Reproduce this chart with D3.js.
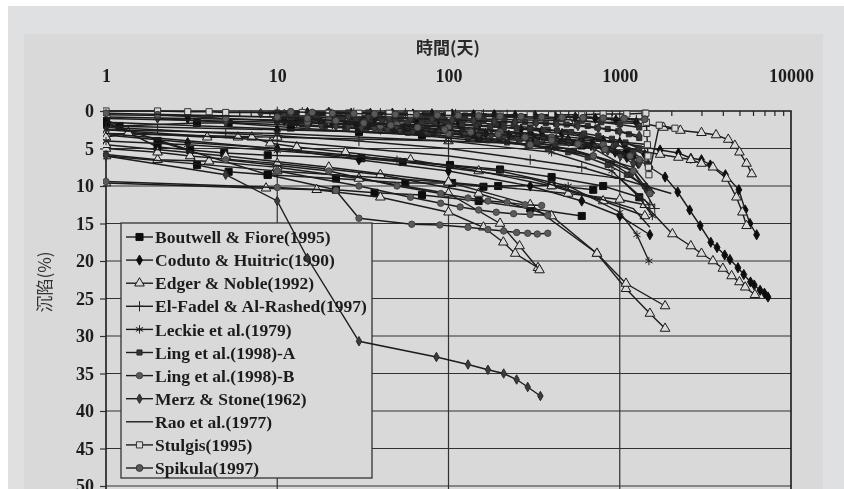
<!DOCTYPE html>
<html>
<head>
<meta charset="utf-8">
<script src="https://cdn.jsdelivr.net/npm/d3@7"></script>
<style>
  html, body { margin: 0; padding: 0; background: #fff; }
  svg { display: block; }
</style>
</head>
<body>
<div id="chart"></div>
<script>
// axis ticks
const xTicks = [1, 10, 100, 1000, 10000];
const yTicks = [0, 5, 10, 15, 20, 25, 30, 35, 40, 45, 50];

const seriesNames = [
  'Boutwell & Fiore(1995)',
  'Coduto & Huitric(1990)',
  'Edger & Noble(1992)',
  'El-Fadel & Al-Rashed(1997)',
  'Leckie et al.(1979)',
  'Ling et al.(1998)-A',
  'Ling et al.(1998)-B',
  'Merz & Stone(1962)',
  'Rao et al.(1977)',
  'Stulgis(1995)',
  'Spikula(1997)'
];

// [days, settlement %]
const boutwell1 = [[1,1.2],[1.2,2],[3.4,1.6],[5.2,1.6],[12,2.2],[30,2.8],[70,3.2],[150,3.6],[300,4],[600,4.6],[1100,5.5]];
const boutwell2 = [[1,1.4],[2,4.8],[4.9,5.6],[8.8,5.9],[31,6.3],[54,6.8],[102,7.2],[200,7.8],[400,8.8],[800,10],[1300,11.5]];
const boutwell3 = [[1,1.7],[3.1,5.2],[3.4,7.2],[5.2,8.1],[8.8,8.5],[22,9],[56,9.6],[105,9.6],[160,10.1],[195,10],[400,9.9],[700,10.5]];
const boutwell4 = [[2,4],[8.8,8.5],[22,10.5],[37,10.9],[70,11.2],[150,12],[300,13],[600,14]];

const coduto1 = [[1,0.8],[3,1],[10,1.2],[30,1.5],[100,2],[300,3],[700,4.5],[1200,6],[1500,7.5],[1840,8.8],[2180,10.8],[2560,13.2],[2950,15.3],[3400,17.5],[3700,18.2],[4100,19.2],[4400,19.8],[4900,20.9],[5300,21.8],[5800,22.8],[6100,23.2],[6600,23.9],[7000,24.3],[7340,24.8]];
const coduto2 = [[1,2],[10,2.5],[100,3],[500,3.8],[1000,4.2],[1720,5.2],[2200,5.6],[2600,6.3],[3000,6.5],[3380,7.2],[4140,8.5],[4960,10.5],[5400,13.2],[5760,15],[6300,16.5]];
const coduto3 = [[1,3.2],[3,4.2],[10,5],[30,6.5],[100,8],[300,10],[600,12],[1000,14],[1500,16.5]];
const coduto4 = [[15,0.2],[20,0.2],[27,0.3],[35,0.3],[47,0.3],[62,0.4],[80,0.4],[105,0.4],[140,0.5],[185,0.5],[245,0.6],[320,0.6],[420,0.7],[550,0.8],[720,1],[950,1.2],[1250,1.5]];
const coduto5 = [[12,0.6],[16,0.8],[21,0.9],[28,1],[37,1.1],[49,1.2],[65,1.4],[86,1.5],[115,1.7],[150,1.9],[200,2.1],[265,2.4],[350,2.7],[460,3],[610,3.4],[800,3.9],[1060,4.6],[1400,5.8]];
const coduto6 = [[11,1.3],[13,1.4],[15.5,1.5],[18,1.6],[21,1.7],[25,1.8],[29,1.9],[34,2],[40,2.1],[47,2.2],[55,2.3],[64,2.4],[75,2.5],[88,2.6],[103,2.7],[120,2.8],[140,2.9],[165,3],[193,3.1],[225,3.2],[265,3.3],[310,3.4],[360,3.6],[425,3.8],[500,4],[580,4.3],[680,4.6],[800,5],[940,5.5],[1100,6.2],[1280,7]];

const edger1 = [[1,9.6],[8.6,10.3],[17,10.5],[40,11.5],[100,13.5],[160,15.5],[209,17.5],[245,19],[333,20.9]];
const edger2 = [[1,5.8],[2,6.5],[4,6.7],[10,7.5],[30,9],[100,11],[200,15],[260,18],[340,21.2]];
const edger3 = [[1,5],[2,5.5],[3.1,6],[10,7],[40,8.5],[150,11],[400,14],[736,19],[1087,23.7],[1500,27],[1840,29]];
const edger4 = [[1,4.5],[5,6],[20,7.5],[100,9.5],[300,12.5],[736,19],[1087,23],[1840,26]];
const edger5 = [[1,0.5],[10,0.8],[100,1],[500,1.3],[1400,1.7],[1800,2.2],[2260,2.6],[3000,2.9],[3650,3.2],[4300,3.8],[4700,4.6],[5000,5.5],[5500,7],[5900,8.4]];
const edger6 = [[1,6],[10,8],[100,9.5],[500,11],[1000,11.8],[1400,12.5],[2030,16.4],[2600,18],[3000,19],[3500,20],[4000,21],[4500,22],[5000,22.8],[5400,23.5],[6160,24.5]];
const edger7 = [[1,3],[10,3.5],[100,4],[1000,4.8],[1720,5.8],[2200,6.2],[2600,6.5],[3000,7],[3500,7.5],[4200,9],[4800,11.5],[5200,13.5],[5500,15.3]];
const edger8 = [[1,3.5],[1.35,2.9],[3.9,3.5],[5.9,3.5],[7.1,3.5],[9.1,4.3],[13,4.8],[25,5.5],[60,6.5],[150,8],[400,10],[800,12],[1400,14]];

const elfadel1 = [[1,2.2],[2,2.5],[5,3],[10,3.3],[30,4],[100,5],[300,6.5],[600,7.5],[1000,9],[1500,12.5]];
const elfadel2 = [[10,1],[30,1.5],[100,2.5],[300,3.5],[700,5],[1200,8],[1600,13]];
const elfadel3 = [[10,0.1],[14,0.15],[20,0.2],[28,0.25],[40,0.3],[56,0.3],[80,0.35],[110,0.4],[160,0.45],[220,0.5],[320,0.6],[450,0.7],[640,0.8],[900,1],[1250,1.2]];

const leckie1 = [[1,4],[3,4.5],[10,5.3],[50,6.5],[200,8],[500,10],[1000,13.5],[1260,16.5],[1480,20]];
const leckie2 = [[1,2.5],[10,3],[100,4],[400,5.5],[900,8],[1300,11.5],[1550,14]];

const lingA1 = [[10,0.2],[13,0.3],[17,0.4],[22,0.5],[28,0.6],[35,0.7],[45,0.8],[60,1],[75,1.1],[95,1.3],[120,1.4],[150,1.6],[190,1.8],[240,2],[300,2.2],[380,2.5],[480,2.8],[600,3.2],[760,3.7],[950,4.4],[1200,5.5],[1450,7]];
const lingA2 = [[12,0.8],[16,1],[21,1.2],[27,1.4],[35,1.6],[45,1.8],[58,2],[75,2.3],[95,2.5],[120,2.8],[155,3.1],[200,3.4],[260,3.8],[330,4.2],[420,4.7],[540,5.3],[700,6],[900,7],[1150,8.5],[1450,10.5]];
const lingA3 = [[10,1.5],[14,1.8],[19,2],[25,2.2],[33,2.4],[44,2.6],[58,2.9],[76,3.1],[100,3.3],[130,3.6],[170,3.9],[220,4.2],[290,4.6],[380,5],[500,5.5],[650,6.2],[850,7.2],[1100,8.5],[1400,10]];
const lingA4 = [[10,0.5],[12,0.6],[14,0.7],[17,0.8],[20,0.9],[24,1],[29,1.1],[34,1.2],[41,1.3],[49,1.4],[58,1.5],[70,1.6],[83,1.7],[100,1.8],[120,1.9],[145,2],[175,2.1],[210,2.2],[250,2.3],[300,2.4],[360,2.5],[430,2.6],[520,2.8],[620,3],[750,3.3],[900,3.7],[1080,4.2],[1300,5]];
const lingA5 = [[20,0.1],[26,0.2],[34,0.2],[44,0.3],[57,0.3],[74,0.4],[96,0.5],[125,0.6],[160,0.7],[210,0.8],[270,0.9],[350,1],[460,1.1],[600,1.3],[780,1.5],[1000,1.8],[1300,2.2]];
const lingA6 = [[10,0.3],[11.5,0.35],[13,0.4],[15,0.45],[17,0.5],[20,0.55],[23,0.6],[26,0.65],[30,0.7],[35,0.75],[40,0.8],[46,0.85],[53,0.9],[61,0.95],[70,1],[80,1.05],[92,1.1],[106,1.15],[122,1.2],[140,1.25],[160,1.3],[185,1.35],[212,1.4],[245,1.45],[280,1.5],[322,1.55],[370,1.6],[425,1.7],[490,1.8],[560,1.9],[650,2],[740,2.2],[850,2.4],[980,2.7],[1130,3.1],[1300,3.6]];

const lingB1 = [[1,9.4],[10,10.2],[22,10.6],[30,14.3],[61,15.1],[89,15.2],[130,15.5],[170,15.8],[210,16],[250,16.2],[290,16.3],[330,16.4],[380,16.3]];
const lingB2 = [[10,8],[30,10],[60,11.5],[90,12.3],[117,12.8],[150,13.2],[190,13.5],[240,13.7],[300,13.8],[380,13.9]];
const lingB3 = [[5,6.5],[20,8],[50,10],[90,11],[130,11.6],[170,12],[220,12.2],[280,12.5],[350,12.6]];

const merz1 = [[1,6],[5,8.5],[10,12],[15,19.6],[30,30.7],[85,32.8],[130,33.8],[170,34.5],[210,35],[250,35.8],[290,36.8],[344,38]];
const merz2 = [[2,1],[5,1.5],[15,2],[40,2.5],[100,3],[250,3.5],[500,4],[900,5],[1300,7]];
const merz3 = [[8,0.3],[11,0.4],[15,0.5],[20,0.6],[26,0.7],[34,0.8],[45,0.9],[60,1],[80,1.1],[105,1.2],[140,1.3],[185,1.4],[245,1.5],[325,1.6],[430,1.8],[570,2],[750,2.3],[1000,2.7],[1300,3.3]];
const merz4 = [[18,1.9],[22,2],[26,2.1],[31,2.2],[37,2.3],[44,2.4],[52,2.5],[62,2.6],[74,2.7],[88,2.8],[105,2.9],[125,3],[150,3.1],[178,3.2],[212,3.3],[252,3.4],[300,3.5],[357,3.7],[425,3.9],[505,4.1],[600,4.4],[715,4.8],[850,5.3],[1010,6],[1200,7]];

const rao1 = [[1,2.5],[10,4],[100,6],[1000,9],[2000,11]];
const rao2 = [[1,1],[100,2],[1500,4.5]];
const rao3 = [[1,3],[30,6],[300,9],[1200,13],[1500,15.5]];
const rao4 = [[1,1.5],[50,3],[500,5],[1200,7.5],[1600,11]];

const stulgis1 = [[1,0],[2,0],[3,0.1],[4,0.1],[5,0.2],[14,0.2],[20,0.3],[30,0.3],[45,0.3],[60,0.4],[100,0.4],[150,0.4],[200,0.5],[300,0.5],[400,0.5],[600,0.5],[800,0.4],[1100,0.4],[1400,0.3]];
const stulgis2 = [[1420,0.3],[1430,1.5],[1440,3],[1450,4.5],[1460,6],[1470,7.5],[1480,8.5],[1700,1.9],[2100,2.3]];

const spikula1 = [[2,0.5],[5,1],[15,1.5],[40,2],[100,3],[300,4.5],[700,6],[1200,8],[1500,11]];
const spikula2 = [[1,0.3],[10,0.8],[20,1.2],[50,1.8],[100,2.2],[200,2.8],[400,3.5],[800,4.5],[1300,6.5]];
const spikula3 = [[15,1],[22,1.3],[32,1.6],[46,1.9],[66,2.2],[95,2.5],[135,2.8],[195,3.1],[280,3.5],[400,3.9],[570,4.4],[820,5.1],[1150,6]];
const spikula4 = [[12,0.1],[16,0.2],[21,0.3],[28,0.35],[37,0.4],[49,0.45],[65,0.5],[86,0.55],[114,0.6],[150,0.65],[200,0.7],[265,0.75],[350,0.8],[460,0.85],[610,0.9],[800,0.95],[1060,1],[1400,1.1]];

const seriesCurves = [
  [boutwell1, boutwell2, boutwell3, boutwell4],
  [coduto1, coduto2, coduto3, coduto4, coduto5, coduto6],
  [edger1, edger2, edger3, edger4, edger5, edger6, edger7, edger8],
  [elfadel1, elfadel2, elfadel3],
  [leckie1, leckie2],
  [lingA1, lingA2, lingA3, lingA4, lingA5, lingA6],
  [lingB1, lingB2, lingB3],
  [merz1, merz2, merz3, merz4],
  [rao1, rao2, rao3, rao4],
  [stulgis1, stulgis2],
  [spikula1, spikula2, spikula3, spikula4]
];

const W = 844, H = 489;
const svg = d3.select('#chart').append('svg').attr('width', W).attr('height', H);

// slight blur to mimic the scanned figure
svg.append('defs').append('filter').attr('id', 'scan')
  .append('feGaussianBlur').attr('stdDeviation', 0.45);

const root = svg.append('g').attr('filter', 'url(#scan)');

// scanned page backgrounds
root.append('rect').attr('x', 8).attr('y', 6).attr('width', W - 8).attr('height', H - 6).attr('fill', '#dfe0e2');
root.append('rect').attr('x', 24).attr('y', 34).attr('width', 799).attr('height', H - 34).attr('fill', '#d9d9d9');

const x = d3.scaleLog().domain([1, 10000]).range([106, 791]);
const y = d3.scaleLinear().domain([0, 50]).range([111, 486]);

const serif = '"Liberation Serif", "Times New Roman", serif';
const cjk = '"Noto Sans CJK TC", "Noto Sans CJK SC", sans-serif';

svg.select('defs').append('clipPath').attr('id', 'plot-clip')
  .append('rect').attr('x', 103).attr('y', 104).attr('width', 694).attr('height', 390);

// grid
const grid = root.append('g');
grid.selectAll('.hgrid').data(yTicks.slice(1)).enter().append('line')
  .attr('x1', 106).attr('x2', 791)
  .attr('y1', d => y(d)).attr('y2', d => y(d))
  .attr('stroke', '#333').attr('stroke-width', 1.2);
grid.selectAll('.vgrid').data(xTicks.slice(1, -1)).enter().append('line')
  .attr('x1', d => x(d)).attr('x2', d => x(d))
  .attr('y1', 111).attr('y2', 489)
  .attr('stroke', '#333').attr('stroke-width', 1.2);

// border
grid.append('path')
  .attr('d', `M106,489V111H791V489`)
  .attr('fill', 'none').attr('stroke', '#1a1a1a').attr('stroke-width', 1.6);

// top axis
const topAxis = root.append('g').attr('transform', 'translate(0,111)')
  .call(d3.axisTop(x).tickValues(xTicks).tickSize(0).tickPadding(29).tickFormat(d3.format('d')));
topAxis.select('.domain').remove();
topAxis.selectAll('text')
  .attr('font-family', serif).attr('font-size', '18px').attr('font-weight', 'bold').attr('fill', '#1a1a1a');

const minorAxis = root.append('g').attr('transform', 'translate(0,111)')
  .call(d3.axisTop(x).tickValues(x.ticks().filter(t => xTicks.indexOf(t) < 0)).tickSize(-5).tickFormat(''));
minorAxis.select('.domain').remove();
minorAxis.selectAll('line').attr('stroke', '#222').attr('stroke-width', 1.2);

// left axis
const leftAxis = root.append('g').attr('transform', 'translate(106,0)')
  .call(d3.axisLeft(y).tickValues(yTicks).tickSize(6).tickPadding(6));
leftAxis.select('.domain').remove();
leftAxis.selectAll('line').attr('stroke', '#333').attr('stroke-width', 1.2);
leftAxis.selectAll('text')
  .attr('font-family', serif).attr('font-size', '18px').attr('font-weight', 'bold').attr('fill', '#1a1a1a');

// titles
root.append('text').attr('x', 448).attr('y', 54).attr('text-anchor', 'middle')
  .attr('font-family', cjk).attr('font-size', '17px').attr('font-weight', 'bold').attr('fill', '#2a2a2a')
  .text('時間(天)');
root.append('text').attr('transform', 'translate(51,282) rotate(-90)').attr('text-anchor', 'middle')
  .attr('font-family', cjk).attr('font-size', '17px').attr('fill', '#333')
  .text('沉陷(%)');

// marker styles per series
const markerStyles = [
  { type: d3.symbolSquare, size: 50, fill: '#111', stroke: '#111' },
  { type: d3.symbolDiamond, size: 30, fill: '#111', stroke: '#111' },
  { type: d3.symbolTriangle, size: 40, fill: '#d9d9d9', stroke: '#1a1a1a' },
  { type: d3.symbolPlus || d3.symbolCross, size: 36, fill: 'none', stroke: '#222' },
  { type: d3.symbolAsterisk || d3.symbolCross, size: 48, fill: 'none', stroke: '#222' },
  { type: d3.symbolSquare, size: 26, fill: '#333', stroke: '#2a2a2a' },
  { type: d3.symbolCircle, size: 32, fill: '#5a5a5a', stroke: '#444' },
  { type: d3.symbolDiamond, size: 26, fill: '#3a3a3a', stroke: '#2a2a2a' },
  null,
  { type: d3.symbolSquare, size: 38, fill: '#d9d9d9', stroke: '#333' },
  { type: d3.symbolCircle, size: 36, fill: '#5a5a5a', stroke: '#333' }
];

// legend
const legend = root.append('g');
legend.append('rect').attr('x', 121).attr('y', 223).attr('width', 251).attr('height', 255)
  .attr('fill', '#d9d9d9').attr('stroke', '#333').attr('stroke-width', 1.3);
seriesNames.forEach((name, i) => {
  const ly = 237 + i * 23.1;
  const g = legend.append('g');
  g.append('line').attr('x1', 126).attr('x2', 153).attr('y1', ly).attr('y2', ly)
    .attr('stroke', '#1c1c1c').attr('stroke-width', 1.4);
  const m = markerStyles[i];
  if (m) {
    g.append('path').attr('d', d3.symbol().type(m.type).size(m.size)())
      .attr('transform', `translate(139.5,${ly})`)
      .attr('fill', m.fill).attr('stroke', m.stroke).attr('stroke-width', 1);
  }
  g.append('text').attr('x', 155).attr('y', ly).attr('dy', '0.35em')
    .attr('font-family', serif).attr('font-size', '17.5px').attr('font-weight', 'bold').attr('fill', '#1c1c1c')
    .text(name);
});

// data
const plot = root.append('g').attr('clip-path', 'url(#plot-clip)');
const line = d3.line().x(d => x(d[0])).y(d => y(d[1]));
seriesCurves.forEach((curves, i) => {
  const m = markerStyles[i];
  const g = plot.append('g');
  curves.forEach(c => {
    g.append('path').attr('d', line(c))
      .attr('fill', 'none').attr('stroke', '#1c1c1c').attr('stroke-width', 1.4);
    if (m) {
      g.selectAll(null).data(c).enter().append('path')
        .attr('d', d3.symbol().type(m.type).size(m.size)())
        .attr('transform', d => `translate(${x(d[0])},${y(d[1])})`)
        .attr('fill', m.fill).attr('stroke', m.stroke).attr('stroke-width', 1);
    }
  });
});
</script>
</body>
</html>
